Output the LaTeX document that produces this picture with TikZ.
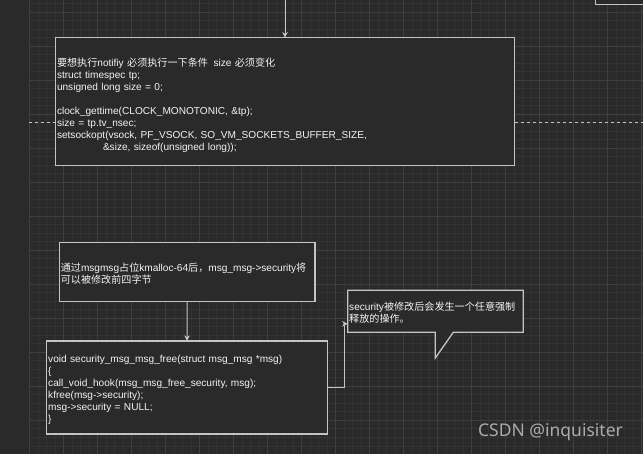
\documentclass[tikz,border=0pt]{standalone}
\usepackage{fontspec}
\setmainfont{Liberation Sans}
\newfontfamily\cjk{Noto Sans CJK SC}
\newfontfamily\wmfont{Noto Sans}
\usetikzlibrary{arrows.meta,calc}
\definecolor{bgc}{HTML}{2A2A2A}
\definecolor{gridminor}{HTML}{333333}
\definecolor{gridmajor}{HTML}{3F3F3F}
\definecolor{edgec}{HTML}{C4C4C4}
\definecolor{txtc}{HTML}{F4F4F4}
\definecolor{wmc}{HTML}{ABABAB}
\newcommand{\zh}[1]{{\cjk #1}}
\newcommand{\lift}[1]{\rule{0pt}{#1}}
\pgfdeclarelayer{base}
\pgfdeclarelayer{mid}
\pgfsetlayers{base,mid,main}
\begin{document}
\begin{tikzpicture}[x=1pt,y=-1pt,
  box/.style={draw=edgec, line width=1.3pt, fill=bgc, text=txtc,
    font=\fontsize{10.1}{12}\selectfont, align=left, inner xsep=1.5pt, inner ysep=0pt,
    outer sep=0pt, anchor=north west},
  conn/.style={draw=edgec, line width=1pt},
  tip/.style={-{Stealth[length=5.5pt,width=5.5pt,inset=1.6pt]}},
  gmin/.style={draw=gridminor, line width=0.6pt},
  gmaj/.style={draw=gridmajor, line width=0.7pt},
  dashline/.style={draw=edgec, line width=0.8pt, dash pattern=on 3pt off 3pt},
  wmark/.style={text=wmc, font=\wmfont\fontsize{17.5}{20}\selectfont, inner sep=0pt}]
\useasboundingbox (0,0) rectangle (643,454);
\begin{pgfonlayer}{base}
  \fill[bgc] (0,0) rectangle (643,454);
  \foreach \i in {0,...,72} \draw[gmin] (29.3+8.5*\i,0) -- (29.3+8.5*\i,454);
  \foreach \j in {0,...,52} \draw[gmin] (29.3,3.8+8.5*\j) -- (643,3.8+8.5*\j);
  \foreach \i in {0,...,18} \draw[gmaj] (29.3+34*\i,0) -- (29.3+34*\i,454);
  \foreach \j in {0,...,12} \draw[gmaj] (29.3,12.3+34*\j) -- (643,12.3+34*\j);
  \coordinate (dl) at (29.3,122.3);
  \coordinate (dr) at (643,122.3);
  \draw[dashline] (dl) -- (dr);
\end{pgfonlayer}

% partially visible box at top right
\begin{scope}
  \clip (0,0) rectangle (643,454);
  \node[box, minimum width=100pt, minimum height=44.7pt] (tr) at (595.3,-40) {};
\end{scope}

\node[box, minimum width=459pt, minimum height=128pt, text width=456pt] (b1) at (55.5,37.7) {%
\lift{16pt}\zh{要想执行}notifiy \zh{必须执行一下条件}\hspace{5.6pt}size \zh{必须变化}\\
struct timespec tp;\\
unsigned long size = 0;\\
\mbox{}\\
clock\_gettime(CLOCK\_MONOTONIC, \&tp);\\
size = tp.tv\_nsec;\\
setsockopt(vsock, PF\_VSOCK, SO\_VM\_SOCKETS\_BUFFER\_SIZE,\\
\hspace*{46pt}\&size, sizeof(unsigned long));};

\node[box, minimum width=255.7pt, minimum height=59.4pt, text width=252.7pt] (b2) at (59.3,242.3) {%
\lift{12pt}\zh{通过}msgmsg\zh{占位}kmalloc-64\zh{后，}msg\_msg->security\zh{将}\\
\zh{可以被修改前四字节}};

\node[box, minimum width=280.6pt, minimum height=93pt, text width=277.6pt] (b3) at (46.7,341) {%
\lift{12.5pt}void security\_msg\_msg\_free(struct msg\_msg *msg)\\
\{\\
call\_void\_hook(msg\_msg\_free\_security, msg);\\
kfree(msg->security);\\
msg->security = NULL;\\
\}};

\node[box, draw=none, fill=none, minimum width=175.6pt, minimum height=42pt, text width=172.6pt] (cb) at (347.7,290.3) {%
\lift{12pt}security\zh{被修改后会发生一个任意强制}\\
\zh{释放的操作。}};

\begin{pgfonlayer}{mid}
  \coordinate (p1) at ($(cb.south west)+(105.6,0)$);
  \coordinate (p2) at ($(cb.south west)+(87.6,25.7)$);
  \coordinate (p3) at ($(cb.south west)+(87.6,0)$);
  \draw[draw=edgec, line width=1.3pt, fill=bgc, line join=miter]
    (cb.north west) -- (cb.north east) -- (cb.south east) -- (p1) -- (p2) -- (p3)
    -- (cb.south west) -- cycle;
\end{pgfonlayer}

\coordinate (topin) at (285,0);
\coordinate (cin) at ($(cb.west)+(0,12.5)$);
\draw[conn, tip] (topin) -- (b1);
\draw[conn, tip] (b2) -- (b3);
\draw[conn, tip] (b3.east) -- ++(17,0) |- (cin);

\node[wmark] (wm) at (550.5,432.5) {CSDN @inquisiter};
\end{tikzpicture}
\end{document}
